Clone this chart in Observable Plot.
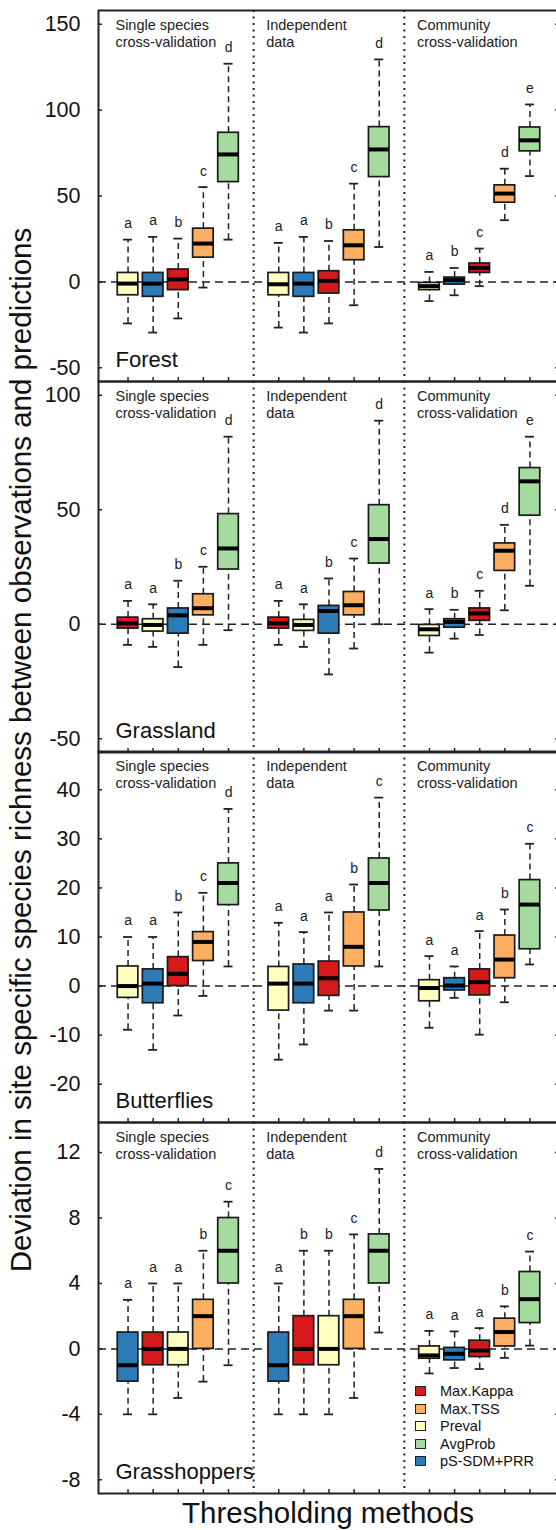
<!DOCTYPE html>
<html><head><meta charset="utf-8">
<script src="https://cdn.jsdelivr.net/npm/d3@7"></script>
<script src="https://cdn.jsdelivr.net/npm/@observablehq/plot@0.6"></script>
<style>
html,body{margin:0;padding:0;background:#fff;overflow:hidden;width:556px;height:1530px}
#wrap{position:relative;width:556px;height:1530px;overflow:hidden;font-family:"Liberation Sans",Arial,sans-serif;color:#111}
.panel{position:absolute;left:0;max-width:none !important}
#ytitle{position:absolute;left:-529px;top:735px;width:1100px;height:30px;line-height:30px;font-size:29.5px;text-align:center;transform:rotate(-90deg);transform-origin:550px 15px;white-space:nowrap}
#xtitle{position:absolute;left:28px;top:1498px;width:600px;line-height:30px;font-size:29.5px;text-align:center;white-space:nowrap}
#legend{position:absolute;left:415px;top:1383px;font-size:14.5px}
.lrow{position:absolute;left:0;height:17.5px;white-space:nowrap}
.lsq{position:absolute;left:0;top:3px;width:9px;height:8px;border:1.5px solid #222}
.ltx{position:absolute;left:25px;top:0;line-height:17px}
</style></head>
<body><div id="wrap"></div>
<script>
// ---- data ----
const panels = ["Forest", "Grassland", "Butterflies", "Grasshoppers"];
const validations = ["Single species\ncross-validation", "Independent\ndata", "Community\ncross-validation"];
const methods = ["Max.Kappa", "Max.TSS", "Preval", "AvgProb", "pS-SDM+PRR"];
const methodColors = ["#D7191C", "#FDAE61", "#FFFFBF", "#A6DBA0", "#2C7BB6"];
const yDomains = [[-58, 158], [-56, 106], [-27.8, 47.8], [-8.84, 13.84]];
const yTicks = [[-50, 0, 50, 100, 150], [-50, 0, 50, 100], [-20, -10, 0, 10, 20, 30, 40], [-8, -4, 0, 4, 8, 12]];
const xTitle = "Thresholding methods";
const yTitle = "Deviation in site specific species richness between observations and predictions";

// rows: [validation index, method, lower whisker, Q1, median, Q3, upper whisker, letter]
const forestBoxes = [
  [0, "Preval", -24.2, -7.8, -1, 5.2, 24.6, "a"],
  [0, "pS-SDM+PRR", -29.5, -8.7, -1, 5.2, 26.2, "a"],
  [0, "Max.Kappa", -21.3, -4.8, 1.4, 7.2, 25.2, "b"],
  [0, "Max.TSS", -3.3, 14.1, 22.3, 31, 55.2, "c"],
  [0, "AvgProb", 24.6, 58.1, 74.2, 86.8, 127, "d"],
  [1, "Preval", -26.6, -7.8, -1.4, 5.2, 22.7, "a"],
  [1, "pS-SDM+PRR", -29.5, -8.7, -1, 5.2, 26.2, "a"],
  [1, "Max.Kappa", -24.2, -6.8, 0.6, 6.2, 23.8, "b"],
  [1, "Max.TSS", -13.6, 12.6, 21.3, 30, 57.2, "c"],
  [1, "AvgProb", 20.3, 61, 77.1, 90.1, 129.5, "d"],
  [2, "Preval", -11.2, -4.8, -2.5, -0.6, 5.8, "a"],
  [2, "pS-SDM+PRR", -7.8, -1.6, 1, 2.5, 8.1, "b"],
  [2, "Max.Kappa", -2.5, 5.2, 8.1, 10.7, 19.4, "c"],
  [2, "Max.TSS", 35.9, 46.1, 51.4, 56.2, 65.9, "d"],
  [2, "AvgProb", 61.6, 76, 82.4, 89.9, 103.3, "e"]
];
const grasslandBoxes = [
  [0, "Max.Kappa", -9, -1.9, 0.4, 2.9, 10.2, "a"],
  [0, "Preval", -9.9, -3.2, -0.3, 2.2, 8.7, "a"],
  [0, "pS-SDM+PRR", -18.7, -4.1, 3.9, 6.9, 19, "b"],
  [0, "Max.TSS", -9, 3.9, 7, 13.1, 25.1, "c"],
  [0, "AvgProb", -2.6, 23.9, 33.1, 48.1, 81.9, "d"],
  [1, "Max.Kappa", -9, -1.9, 0.4, 2.9, 10.2, "a"],
  [1, "Preval", -9.9, -2.9, -0.3, 1.9, 8.7, "a"],
  [1, "pS-SDM+PRR", -21.9, -4.1, 5.8, 8, 20, "b"],
  [1, "Max.TSS", -10.6, 3.9, 8.3, 14.1, 28.7, "c"],
  [1, "AvgProb", 0, 26.5, 37.2, 52, 88.9, "d"],
  [2, "Preval", -12.4, -5.1, -2.2, -0.3, 6.6, "a"],
  [2, "pS-SDM+PRR", -6.3, -1.5, 1, 2.2, 6.3, "b"],
  [2, "Max.Kappa", -4.7, 1.5, 4.7, 6.9, 14.6, "c"],
  [2, "Max.TSS", 6.1, 23.3, 32.1, 35.3, 43.4, "d"],
  [2, "AvgProb", 16.8, 47.4, 62.4, 68.2, 81.9, "e"]
];
const butterflyBoxes = [
  [0, "Preval", -8.9, -2.4, 0, 4, 10, "a"],
  [0, "pS-SDM+PRR", -13, -3.5, 0.5, 3.4, 10, "a"],
  [0, "Max.Kappa", -6, 0, 2.5, 5.9, 15, "b"],
  [0, "Max.TSS", -2, 5.1, 9, 11, 19, "c"],
  [0, "AvgProb", 4, 16.5, 21, 25, 36.1, "d"],
  [1, "Preval", -15, -5, 0.5, 3.9, 12.9, "a"],
  [1, "pS-SDM+PRR", -11.9, -3.5, 0.5, 4.4, 11, "a"],
  [1, "Max.Kappa", -5, -2, 1.6, 5, 15, "a"],
  [1, "Max.TSS", -5, 4, 8, 15, 20.7, "b"],
  [1, "AvgProb", 4, 15.4, 21, 26, 38.4, "c"],
  [2, "Preval", -8.5, -3.1, -0.4, 1.2, 6.1, "a"],
  [2, "pS-SDM+PRR", -2.4, -0.9, 0.1, 1.6, 4, "a"],
  [2, "Max.Kappa", -9.9, -1.9, 0.8, 3.4, 11.2, "a"],
  [2, "Max.TSS", -3.3, 1.6, 5.4, 10.3, 15.6, "b"],
  [2, "AvgProb", 4.4, 7.5, 16.6, 21.6, 29, "c"]
];
const grasshopperBoxes = [
  [0, "pS-SDM+PRR", -4, -2, -1, 1, 3, "a"],
  [0, "Max.Kappa", -4, -1, 0, 1, 4, "a"],
  [0, "Preval", -3, -1, 0, 1, 4, "a"],
  [0, "Max.TSS", -2, 0, 2, 3, 6, "b"],
  [0, "AvgProb", -1, 4, 6, 8, 9, "c"],
  [1, "pS-SDM+PRR", -4, -2, -1, 1, 4, "a"],
  [1, "Max.Kappa", -4, -1, 0, 2, 6, "b"],
  [1, "Preval", -4, -1, 0, 2, 6, "b"],
  [1, "Max.TSS", -3, 0, 2, 3, 7, "c"],
  [1, "AvgProb", 1, 4, 6, 7, 11, "d"],
  [2, "Preval", -1.5, -0.6, -0.4, 0.15, 1.1, "a"],
  [2, "pS-SDM+PRR", -1.17, -0.7, -0.3, 0.06, 1.07, "a"],
  [2, "Max.Kappa", -1.23, -0.5, -0.1, 0.5, 1.27, "a"],
  [2, "Max.TSS", -0.55, 0.15, 1.03, 1.85, 2.6, "b"],
  [2, "AvgProb", 0.2, 1.58, 3.04, 4.7, 5.95, "c"]
];
const allBoxes = [forestBoxes, grasslandBoxes, butterflyBoxes, grasshopperBoxes];

// ---- layout ----
const panelTops = [10, 381, 751, 1122];
const innerH = 371;
const W = 559, ML = 98;
const xDomain = [-0.176, 18.176];
const BW = 0.41, CAP = 0.18;
const font = "'Liberation Sans', Arial, sans-serif";
const wrap = document.getElementById("wrap");

function toRows(boxes) {
  const counts = [0, 0, 0];
  return boxes.map(([v, method, lo, q1, med, q3, hi, letter]) => {
    const x = v * 6 + (++counts[v]);
    return {v, x, method, lo, q1, med, q3, hi, letter};
  });
}

panels.forEach((name, p) => {
  const rows = toRows(allBoxes[p]);
  const xs = rows.map(d => d.x);
  const frameW = W - ML;
  const chart = Plot.plot({
    width: W, height: innerH + 2,
    marginLeft: ML, marginRight: 0, marginTop: 1, marginBottom: 1,
    x: {domain: xDomain, axis: null},
    y: {domain: yDomains[p], axis: null},
    color: {domain: methods, range: methodColors},
    style: {fontFamily: font, background: "none", overflow: "visible", color: "#111", maxWidth: "none"},
    marks: [
      Plot.ruleY([0], {stroke: "#222", strokeWidth: 1.5, strokeDasharray: "8,5"}),
      Plot.ruleX([6, 12], {stroke: "#222", strokeWidth: 2, strokeDasharray: "2,4.5"}),
      Plot.ruleX(rows, {x: "x", y1: "lo", y2: "q1", stroke: "#222", strokeWidth: 1.5, strokeDasharray: "6,4"}),
      Plot.ruleX(rows, {x: "x", y1: "q3", y2: "hi", stroke: "#222", strokeWidth: 1.5, strokeDasharray: "6,4"}),
      Plot.ruleY(rows, {y: "lo", x1: d => d.x - CAP, x2: d => d.x + CAP, stroke: "#222", strokeWidth: 1.8}),
      Plot.ruleY(rows, {y: "hi", x1: d => d.x - CAP, x2: d => d.x + CAP, stroke: "#222", strokeWidth: 1.8}),
      Plot.rect(rows, {x1: d => d.x - BW, x2: d => d.x + BW, y1: "q1", y2: "q3", fill: "method", stroke: "#1a1a1a", strokeWidth: 1.7}),
      Plot.ruleY(rows, {y: "med", x1: d => d.x - BW, x2: d => d.x + BW, stroke: "#000", strokeWidth: 4}),
      Plot.text(rows, {x: "x", y: "hi", text: "letter", dy: -16, fontSize: 14, fill: "#222", lineAnchor: "middle"}),
      Plot.text(validations, {x: (d, i) => i * 6 + 0.5, frameAnchor: "top", lineAnchor: "top", textAnchor: "start", dy: 7.7, fontSize: 14.5, lineHeight: 1.17, fill: "#222"}),
      Plot.text([name], {x: 0.5, frameAnchor: "bottom", lineAnchor: "bottom", textAnchor: "start", dy: -14.5, fontSize: 22, fill: "#111"}),
      Plot.axisY(yTicks[p], {tickSize: 0, tickPadding: 18, fontSize: 21.5, tickFormat: d => String(d), fill: "#111"}),
      Plot.tickY(yTicks[p], {stroke: "#222", strokeWidth: 1.5, insetRight: frameW - 4}),
      Plot.tickY(yTicks[p], {stroke: "#222", strokeWidth: 1.5, insetLeft: frameW - 4}),
      Plot.tickX(xs, {stroke: "#222", strokeWidth: 1.5, insetTop: innerH - 4}),
      Plot.frame({stroke: "#222", strokeWidth: 2})
    ]
  });
  chart.classList.add("panel");
  chart.style.top = (panelTops[p] - 1) + "px";
  chart.style.maxWidth = "none";
  wrap.appendChild(chart);
});

const yt = document.createElement("div");
yt.id = "ytitle"; yt.textContent = yTitle; wrap.appendChild(yt);
const xt = document.createElement("div");
xt.id = "xtitle"; xt.textContent = xTitle; wrap.appendChild(xt);

const lg = document.createElement("div");
lg.id = "legend";
methods.forEach((m, i) => {
  const r = document.createElement("div");
  r.className = "lrow"; r.style.top = (i * 17.5) + "px";
  const sq = document.createElement("div");
  sq.className = "lsq"; sq.style.background = methodColors[i];
  const tx = document.createElement("div");
  tx.className = "ltx"; tx.textContent = m;
  r.appendChild(sq); r.appendChild(tx); lg.appendChild(r);
});
wrap.appendChild(lg);
</script>
</body></html>
